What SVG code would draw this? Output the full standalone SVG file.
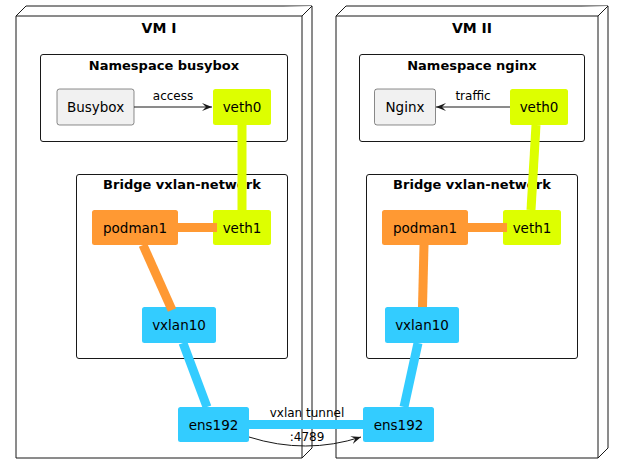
<svg xmlns="http://www.w3.org/2000/svg" width="624" height="474" viewBox="0 0 624 474">
<defs>
<style>
.vm{fill:#fff;stroke:#181818;stroke-width:1}
.cl{fill:#fff;stroke:#181818;stroke-width:1}
.t{font-family:"DejaVu Sans",Verdana,sans-serif;font-weight:bold;font-size:13px;text-anchor:middle;fill:#000}
.n{font-family:"DejaVu Sans",Verdana,sans-serif;font-size:13.5px;text-anchor:middle;fill:#000}
.l{font-family:"DejaVu Sans",Verdana,sans-serif;font-size:12px;text-anchor:middle;fill:#000}
.gray{fill:#F1F1F1;stroke:#181818;stroke-width:0.5}
.yel{fill:#DDFF00}
.org{fill:#FF9933}
.blu{fill:#33CCFF}
.ly{stroke:#DDFF00;stroke-width:9;fill:none}
.lo{stroke:#FF9933;stroke-width:9;fill:none}
.lb{stroke:#33CCFF;stroke-width:9;fill:none}
.ar{stroke:#181818;stroke-width:1;fill:none}
</style>
<marker id="ah" viewBox="0 0 10 10" refX="10" refY="5" markerWidth="10" markerHeight="10" markerUnits="userSpaceOnUse" orient="auto">
<path d="M0,1 L10,5 L0,9 L4,5 Z" fill="#181818"/>
</marker>
</defs>

<g id="vm1">
<path class="vm" d="M16,16 L26,6 L312,6 L312,448 L302,458 L16,458 Z"/>
<path class="vm" d="M16,16 L302,16 L312,6 M302,16 L302,458"/>
<text class="t" x="159" y="33" style="font-size:14px">VM I</text>
</g>
<g id="vm2">
<path class="vm" d="M336,16 L346,6 L608,6 L608,448 L598,458 L336,458 Z"/>
<path class="vm" d="M336,16 L598,16 L608,6 M598,16 L598,458"/>
<text class="t" x="472" y="33" style="font-size:14px">VM II</text>
</g>

<g id="ns-busybox">
<rect class="cl" x="40.5" y="54.5" width="247" height="87" rx="2.5"/>
<text class="t" x="164" y="70">Namespace busybox</text>
</g>
<g id="ns-nginx">
<rect class="cl" x="359.5" y="54.5" width="225" height="87" rx="2.5"/>
<text class="t" x="472" y="70">Namespace nginx</text>
</g>
<g id="br1">
<rect class="cl" x="76.5" y="174.5" width="211" height="184" rx="2.5"/>
<text class="t" x="182" y="189">Bridge vxlan-network</text>
</g>
<g id="br2">
<rect class="cl" x="366.5" y="174.5" width="211" height="184" rx="2.5"/>
<text class="t" x="472" y="189">Bridge vxlan-network</text>
</g>

<g id="busybox">
<rect class="gray" x="57" y="89" width="77" height="36" rx="2.5"/>
<text class="n" x="95.5" y="112">Busybox</text>
</g>
<g id="veth0-1">
<rect class="yel" x="213" y="89" width="58" height="36" rx="2.5"/>
<text class="n" x="242" y="112">veth0</text>
</g>
<g id="nginx">
<rect class="gray" x="374.5" y="89" width="61" height="36" rx="2.5"/>
<text class="n" x="405" y="112">Nginx</text>
</g>
<g id="veth0-2">
<rect class="yel" x="510" y="89" width="58" height="36" rx="2.5"/>
<text class="n" x="539" y="112">veth0</text>
</g>
<g id="podman1-1">
<rect class="org" x="92" y="210" width="86" height="35" rx="2.5"/>
<text class="n" x="135" y="232.5">podman1</text>
</g>
<g id="veth1-1">
<rect class="yel" x="213" y="210" width="58" height="35" rx="2.5"/>
<text class="n" x="242" y="232.5">veth1</text>
</g>
<g id="vxlan10-1">
<rect class="blu" x="142" y="307" width="74" height="36" rx="2.5"/>
<text class="n" x="179" y="330">vxlan10</text>
</g>
<g id="podman1-2">
<rect class="org" x="382" y="210" width="86" height="35" rx="2.5"/>
<text class="n" x="425" y="232.5">podman1</text>
</g>
<g id="veth1-2">
<rect class="yel" x="503" y="210" width="58" height="35" rx="2.5"/>
<text class="n" x="532" y="232.5">veth1</text>
</g>
<g id="vxlan10-2">
<rect class="blu" x="385" y="307" width="74" height="36" rx="2.5"/>
<text class="n" x="422" y="330">vxlan10</text>
</g>
<g id="ens192-1">
<rect class="blu" x="178" y="407" width="71" height="35" rx="2.5"/>
<text class="n" x="213.5" y="429.5">ens192</text>
</g>
<g id="ens192-2">
<rect class="blu" x="363" y="407" width="71" height="35" rx="2.5"/>
<text class="n" x="398.5" y="429.5">ens192</text>
</g>

<g id="connectors">
<line class="ar" x1="134" y1="107" x2="212" y2="107" marker-end="url(#ah)"/>
<text class="l" x="173" y="100">access</text>
<line class="ar" x1="510" y1="107" x2="436" y2="107" marker-end="url(#ah)"/>
<text class="l" x="473" y="100">traffic</text>
<line class="ly" x1="242" y1="125" x2="242" y2="210"/>
<line class="ly" x1="536" y1="125" x2="531" y2="210"/>
<line class="lo" x1="178" y1="227.5" x2="217" y2="227.5"/>
<line class="lo" x1="143" y1="245" x2="172" y2="310"/>
<line class="lo" x1="468" y1="227.5" x2="507" y2="227.5"/>
<line class="lo" x1="424" y1="245" x2="422.5" y2="307"/>
<line class="lb" x1="183" y1="343" x2="207" y2="407"/>
<line class="lb" x1="418" y1="343" x2="404" y2="407"/>
<line class="lb" x1="249" y1="424.5" x2="363" y2="424.5"/>
<path class="ar" d="M249,437 Q306,455 361,437" marker-end="url(#ah)"/>
<text class="l" x="307" y="417">vxlan tunnel</text>
<text class="l" x="307" y="441">:4789</text>
</g>
</svg>
